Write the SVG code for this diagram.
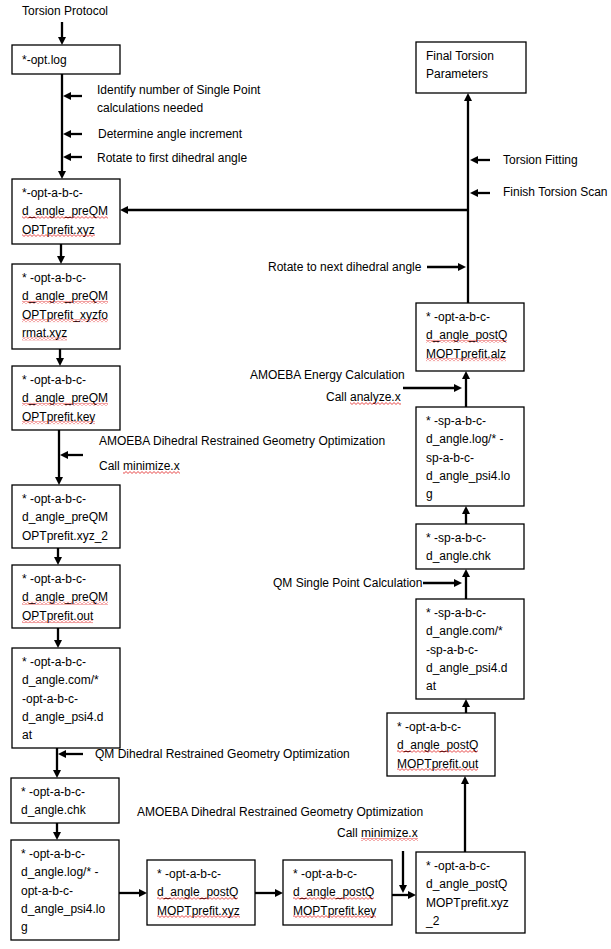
<svg xmlns="http://www.w3.org/2000/svg" width="611" height="949" viewBox="0 0 611 949">
<style>
text{font-family:"Liberation Sans",Arial,sans-serif;font-size:12px;fill:#000}
.box{fill:#fff;stroke:#000;stroke-width:1.3}
.c{fill:none;stroke:#000;stroke-width:2.3}
.a{marker-end:url(#ah)}
.sq{fill:url(#sq)}
</style>
<defs>
<marker id="ah" viewBox="0 0 8 8" refX="4" refY="4" markerWidth="8" markerHeight="8" markerUnits="userSpaceOnUse" orient="auto">
<path d="M0,0 L8,4 L0,8 z" fill="#000"/>
</marker>
<pattern id="sq" width="4" height="3" patternUnits="userSpaceOnUse">
<path d="M-1,1.5 L0,2.5 L2,0.5 L4,2.5 L5,1.5" fill="none" stroke="#e01010" stroke-width="0.8"/>
</pattern>
</defs>
<rect width="611" height="949" fill="#fff"/>

<g id="connectors">
<path class="c a" d="M62,22 V41"/>
<path class="c a" d="M62,74 V175"/>
<path class="c a" d="M82,96 H67"/>
<path class="c a" d="M82,134 H67"/>
<path class="c a" d="M82,157 H67"/>
<path class="c a" d="M61,244 V260"/>
<path class="c a" d="M60,349 V362"/>
<path class="c a" d="M59,430 V481"/>
<path class="c a" d="M83,455 H64"/>
<path class="c a" d="M58,548 V561"/>
<path class="c a" d="M58,628 V644"/>
<path class="c a" d="M57,748 V774"/>
<path class="c a" d="M83,754 H62"/>
<path class="c a" d="M57,823 V836"/>
<path class="c a" d="M119,893 H143"/>
<path class="c a" d="M255,893 H279"/>
<path class="c a" d="M392,895 H412"/>
<path class="c a" d="M403,851 V889"/>
<path class="c a" d="M465,852 V780"/>
<path class="c a" d="M466,713 V703"/>
<path class="c a" d="M466,599 V573"/>
<path class="c a" d="M423,583 H458"/>
<path class="c a" d="M466,524 V510"/>
<path class="c a" d="M466,407 V375"/>
<path class="c a" d="M403,388 H458"/>
<path class="c a" d="M468,303 V97"/>
<path class="c a" d="M469,210 H124"/>
<path class="c a" d="M490,160 H474"/>
<path class="c a" d="M490,193 H474"/>
<path class="c a" d="M427,267 H462"/>
</g>

<g id="labels">
<text x="22" y="15">Torsion Protocol</text>
<text x="97" y="94">Identify number of Single Point</text>
<text x="97" y="112">calculations needed</text>
<text x="98" y="138">Determine angle increment</text>
<text x="97" y="162">Rotate to first dihedral angle</text>
<text x="503" y="164">Torsion Fitting</text>
<text x="503" y="196">Finish Torsion Scan</text>
<text x="268" y="271">Rotate to next dihedral angle</text>
<text x="250" y="379">AMOEBA Energy Calculation</text>
<text x="326" y="401">Call analyze.x</text>
<rect class="sq" x="350" y="402" width="51" height="3"/>
<text x="99" y="445">AMOEBA Dihedral Restrained Geometry Optimization</text>
<text x="99" y="470">Call minimize.x</text>
<rect class="sq" x="123" y="471" width="57" height="3"/>
<text x="273" y="587">QM Single Point Calculation</text>
<text x="95" y="758">QM Dihedral Restrained Geometry Optimization</text>
<text x="137" y="816">AMOEBA Dihedral Restrained Geometry Optimization</text>
<text x="337" y="837">Call minimize.x</text>
<rect class="sq" x="361" y="838" width="57" height="3"/>
</g>

<g id="n-optlog">
<rect class="box" x="12" y="45" width="108" height="29"/>
<text x="22" y="64">*-opt.log</text>
</g>

<g id="n-preqm-xyz">
<rect class="box" x="12" y="179" width="108" height="65"/>
<text x="22" y="197">*-opt-a-b-c-</text>
<text x="22" y="215.3">d_angle_preQM</text>
<text x="22" y="233.6">OPTprefit.xyz</text>
<rect class="sq" x="22" y="215.8" width="86" height="3"/>
<rect class="sq" x="22" y="234.1" width="73" height="3"/>
</g>

<g id="n-preqm-xyzformat">
<rect class="box" x="12" y="264" width="108" height="85"/>
<text x="22" y="282">* -opt-a-b-c-</text>
<text x="22" y="300.3">d_angle_preQM</text>
<text x="22" y="318.6">OPTprefit_xyzfo</text>
<text x="22" y="336.9">rmat.xyz</text>
<rect class="sq" x="22" y="300.8" width="86" height="3"/>
<rect class="sq" x="22" y="319.1" width="86" height="3"/>
<rect class="sq" x="22" y="337.4" width="45" height="3"/>
</g>

<g id="n-preqm-key">
<rect class="box" x="12" y="366" width="108" height="64"/>
<text x="22" y="384">* -opt-a-b-c-</text>
<text x="22" y="402.3">d_angle_preQM</text>
<text x="22" y="420.6">OPTprefit.key</text>
<rect class="sq" x="22" y="402.8" width="86" height="3"/>
<rect class="sq" x="22" y="421.1" width="73" height="3"/>
</g>

<g id="n-preqm-xyz2">
<rect class="box" x="12" y="485" width="108" height="63"/>
<text x="22" y="503">* -opt-a-b-c-</text>
<text x="22" y="521.3">d_angle_preQM</text>
<text x="22" y="539.6">OPTprefit.xyz_2</text>
</g>

<g id="n-preqm-out">
<rect class="box" x="12" y="565" width="108" height="63"/>
<text x="22" y="583">* -opt-a-b-c-</text>
<text x="22" y="601.3">d_angle_preQM</text>
<text x="22" y="619.6">OPTprefit.out</text>
<rect class="sq" x="22" y="601.8" width="86" height="3"/>
<rect class="sq" x="22" y="620.1" width="71" height="3"/>
</g>

<g id="n-opt-com">
<rect class="box" x="12" y="648" width="108" height="100"/>
<text x="22" y="666">* -opt-a-b-c-</text>
<text x="22" y="684.3">d_angle.com/*</text>
<text x="22" y="702.6">-opt-a-b-c-</text>
<text x="22" y="720.9">d_angle_psi4.d</text>
<text x="22" y="739.2">at</text>
</g>

<g id="n-opt-chk">
<rect class="box" x="11" y="778" width="108" height="45"/>
<text x="21" y="796">* -opt-a-b-c-</text>
<text x="21" y="814.3">d_angle.chk</text>
</g>

<g id="n-opt-log2">
<rect class="box" x="11" y="840" width="108" height="100"/>
<text x="21" y="858">* -opt-a-b-c-</text>
<text x="21" y="876.3">d_angle.log/* -</text>
<text x="21" y="894.6">opt-a-b-c-</text>
<text x="21" y="912.9">d_angle_psi4.lo</text>
<text x="21" y="931.2">g</text>
</g>

<g id="n-postqm-xyz">
<rect class="box" x="147" y="860" width="108" height="65"/>
<text x="157" y="878">* -opt-a-b-c-</text>
<text x="157" y="896.3">d_angle_postQ</text>
<text x="157" y="914.6">MOPTprefit.xyz</text>
<rect class="sq" x="157" y="896.8" width="81" height="3"/>
<rect class="sq" x="157" y="915.1" width="83" height="3"/>
</g>

<g id="n-postqm-key">
<rect class="box" x="283" y="860" width="109" height="65"/>
<text x="293" y="878">* -opt-a-b-c-</text>
<text x="293" y="896.3">d_angle_postQ</text>
<text x="293" y="914.6">MOPTprefit.key</text>
<rect class="sq" x="293" y="896.8" width="81" height="3"/>
<rect class="sq" x="293" y="915.1" width="83" height="3"/>
</g>

<g id="n-postqm-xyz2">
<rect class="box" x="416" y="852" width="109" height="81"/>
<text x="426" y="870">* -opt-a-b-c-</text>
<text x="426" y="888.3">d_angle_postQ</text>
<text x="426" y="906.6">MOPTprefit.xyz</text>
<text x="426" y="924.9">_2</text>
</g>

<g id="n-postqm-out">
<rect class="box" x="387" y="713" width="108" height="63"/>
<text x="397" y="731">* -opt-a-b-c-</text>
<text x="397" y="749.3">d_angle_postQ</text>
<text x="397" y="767.6">MOPTprefit.out</text>
<rect class="sq" x="397" y="749.8" width="81" height="3"/>
<rect class="sq" x="397" y="768.1" width="81" height="3"/>
</g>

<g id="n-sp-com">
<rect class="box" x="416" y="599" width="108" height="100"/>
<text x="426" y="617">* -sp-a-b-c-</text>
<text x="426" y="635.3">d_angle.com/*</text>
<text x="426" y="653.6">-sp-a-b-c-</text>
<text x="426" y="671.9">d_angle_psi4.d</text>
<text x="426" y="690.2">at</text>
</g>

<g id="n-sp-chk">
<rect class="box" x="416" y="524" width="108" height="45"/>
<text x="426" y="542">* -sp-a-b-c-</text>
<text x="426" y="560.3">d_angle.chk</text>
</g>

<g id="n-sp-log">
<rect class="box" x="416" y="407" width="108" height="99"/>
<text x="426" y="425">* -sp-a-b-c-</text>
<text x="426" y="443.3">d_angle.log/* -</text>
<text x="426" y="461.6">sp-a-b-c-</text>
<text x="426" y="479.9">d_angle_psi4.lo</text>
<text x="426" y="498.2">g</text>
</g>

<g id="n-postqm-alz">
<rect class="box" x="416" y="303" width="108" height="68"/>
<text x="426" y="321">* -opt-a-b-c-</text>
<text x="426" y="339.3">d_angle_postQ</text>
<text x="426" y="357.6">MOPTprefit.alz</text>
<rect class="sq" x="426" y="339.8" width="81" height="3"/>
<rect class="sq" x="426" y="358.1" width="80" height="3"/>
</g>

<g id="n-final">
<rect class="box" x="416" y="42" width="110" height="51"/>
<text x="426" y="60">Final Torsion</text>
<text x="426" y="78">Parameters</text>
</g>
</svg>
